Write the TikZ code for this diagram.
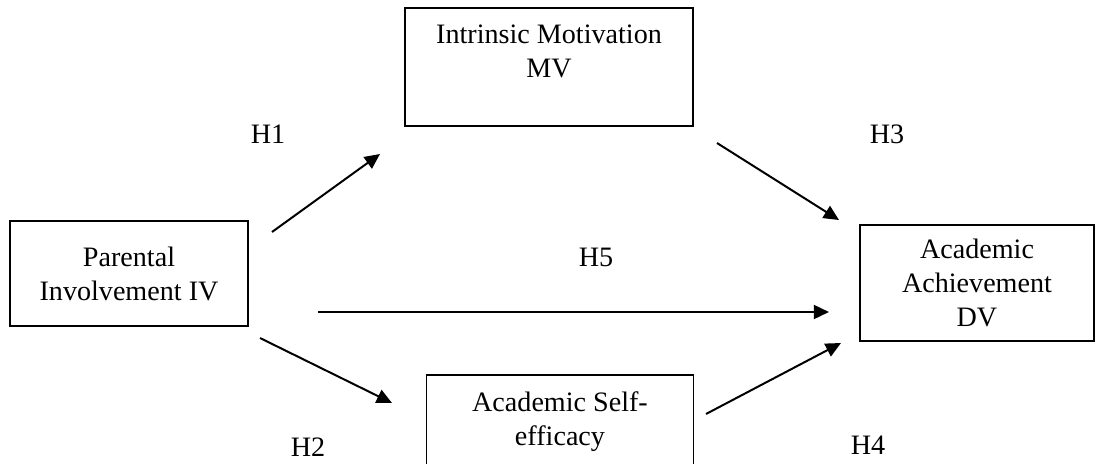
\documentclass[tikz,border=0pt]{standalone}
\usepackage{fontspec}
\setmainfont{Liberation Serif}
\usetikzlibrary{shapes,arrows.meta}

\begin{document}
\begin{tikzpicture}[x=0.015cm, y=-0.015cm, >={Triangle[length=6.5pt,width=6pt]}, font=\fontsize{12}{14.5}\selectfont]
    % Define styles
    \tikzstyle{var} = [rectangle, draw=black, line width=0.65pt, text centered, align=center]
    \tikzstyle{link} = [->, line width=0.85pt]

    \useasboundingbox (0,0) rectangle (1096,463);

    % Nodes
    \node[var, minimum width=3.57cm, minimum height=1.575cm] (parent) at (129,273.5) {Parental\\Involvement IV};
    \node[var, minimum width=4.32cm, minimum height=1.77cm] (motiv) at (549,67) {Intrinsic Motivation\\MV\\[-1pt]};
    \node[var, minimum width=3.51cm, minimum height=1.74cm] (achieve) at (977,283) {Academic\\Achievement\\DV};
    \node[var, minimum width=4.0cm, minimum height=1.77cm] (selfeff) at (560,434) {Academic Self-\\efficacy\\[-1pt]};

    % Hypothesis labels
    \node (h1) at (268,134) {H1};
    \node (h2) at (308,447) {H2};
    \node (h3) at (887,134) {H3};
    \node (h4) at (868,445) {H4};
    \node (h5) at (596,257) {H5};

    % Arrow ends
    \coordinate (h1s) at (272,232);
    \coordinate (h1e) at (380,154);
    \coordinate (h2s) at (260,338);
    \coordinate (h2e) at (392,403);
    \coordinate (h3s) at (717,143);
    \coordinate (h3e) at (839,220);
    \coordinate (h4s) at (706,414);
    \coordinate (h4e) at (841,343);
    \coordinate (h5s) at (318,312);
    \coordinate (h5e) at (829,312);

    % Connections
    \draw[link] (h1s) -- (h1e);
    \draw[link] (h2s) -- (h2e);
    \draw[link] (h3s) -- (h3e);
    \draw[link] (h4s) -- (h4e);
    \draw[link] (h5s) -- (h5e);
\end{tikzpicture}
\end{document}
